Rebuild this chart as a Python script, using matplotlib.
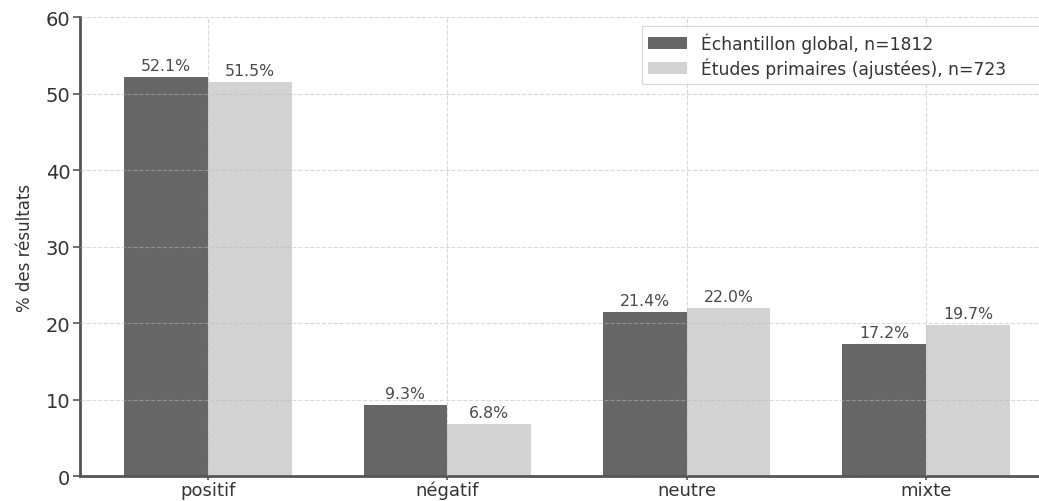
import numpy as np
import matplotlib
matplotlib.use('Agg')
import matplotlib.pyplot as plt

# Données
categories = ['positif', 'négatif', 'neutre', 'mixte']
global_pct = [52.1, 9.3, 21.4, 17.2]
primary_pct = [51.5, 6.8, 22.0, 19.7]
label_global = 'Échantillon global, n=1812'
label_primary = 'Études primaires (ajustées), n=723'
y_ticks = [0, 10, 20, 30, 40, 50, 60]

fig = plt.figure(figsize=(10.39, 5.02), dpi=100)
ax = fig.add_axes([0.077, 0.0498, 0.9374, 0.9143])

x = np.arange(len(categories))
width = 0.35

bars1 = ax.bar(x - width / 2, global_pct, width, color='#666666', label=label_global)
bars2 = ax.bar(x + width / 2, primary_pct, width, color='#d3d3d3', label=label_primary)

# Étiquettes de valeur au-dessus des barres
for bars, vals in ((bars1, global_pct), (bars2, primary_pct)):
    for b, v in zip(bars, vals):
        ax.annotate(f'{v:.1f}%', (b.get_x() + b.get_width() / 2, v),
                    xytext=(0, 3), textcoords='offset points',
                    ha='center', va='bottom', fontsize=11.3, color='#4a4a4a')

ax.set_ylim(0, 60)
ax.set_yticks(y_ticks)
ax.set_xticks(x)
ax.set_xticklabels(categories)
ax.tick_params(axis='both', colors='#555555', labelcolor='#333333',
               length=5, width=1.2)
ax.tick_params(axis='y', labelsize=14, pad=2)
ax.tick_params(axis='x', labelsize=13, pad=0.5, length=3)

ax.set_ylabel('% des résultats', fontsize=12, color='#333333')
ax.yaxis.set_label_coords(-0.047, 0.5)

ax.spines['top'].set_visible(False)
ax.spines['right'].set_visible(False)
for s in ('left', 'bottom'):
    ax.spines[s].set_color('#555555')
    ax.spines[s].set_linewidth(2)

ax.grid(True, linestyle='--', linewidth=0.8, color='#bbbbbb', alpha=0.55)
ax.set_axisbelow(False)

# Légende élargie jusqu'au bord droit
leg = ax.legend(loc='upper left', bbox_to_anchor=(0.577, 0.98, 0.45, 0), mode='expand',
                borderaxespad=0, fontsize=12.3, frameon=True, fancybox=False,
                borderpad=0.35, labelspacing=0.3, handlelength=2.3, handletextpad=0.8)
leg.get_frame().set_edgecolor('#cccccc')
leg.get_frame().set_linewidth(0.8)
for t in leg.get_texts():
    t.set_color('#333333')

fig.savefig('out.png', dpi=100)
